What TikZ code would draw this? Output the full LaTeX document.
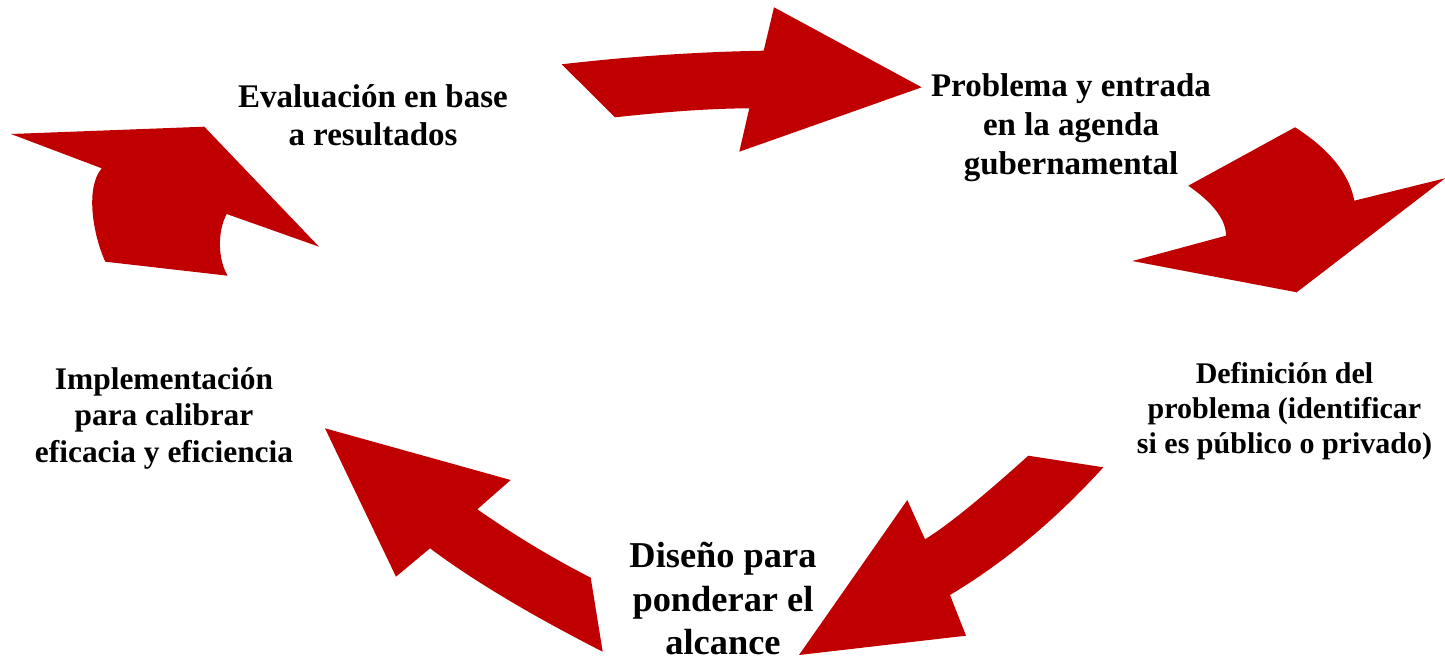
\documentclass[tikz,border=0pt]{standalone}
\usepackage{fontspec}
\setmainfont{Liberation Serif}
\definecolor{arrowred}{RGB}{192,0,0}
\tikzset{
  cyclearrow/.style={fill=arrowred, draw=none},
  stagelabel/.style={align=center, inner sep=0pt, anchor=base, text=black}
}
\begin{document}
\begin{tikzpicture}[x=1pt,y=-1pt]
\useasboundingbox (0,0) rectangle (1445,660);
% arrow 1 (top, to the right)
\fill[cyclearrow] (561.7,64.3) -- (615,117.3)
  .. controls (660,112.5) and (705,108.5) .. (749.3,108.3)
  -- (739.3,151.7) -- (921.7,87.3) -- (774,7.3) -- (763.7,50.7)
  .. controls (696.4,51.9) and (629,56.5) .. cycle;
% arrow 2 (right top, downwards)
\fill[cyclearrow] (1295,127.3) -- (1188.3,185.7)
  .. controls (1213.4,203.2) and (1226,219.8) .. (1226,235.7)
  -- (1132.3,261) -- (1296.7,292.3) -- (1445,178.3) -- (1354.3,200.7)
  .. controls (1349.2,173.8) and (1329.5,149.3) .. cycle;
% arrow 3 (lower right, down-left)
\fill[cyclearrow] (1028.3,455.7) -- (1103.3,467.3)
  .. controls (1055.8,519.6) and (1004.7,562.2) .. (950,595)
  -- (966,635.7) -- (799,655) -- (907.3,500) -- (925,539.3)
  .. controls (946.5,526.2) and (980.9,498.4) .. cycle;
% arrow 4 (lower left, up-left)
\fill[cyclearrow] (325,428.3) -- (510.7,480) -- (477.3,509.3)
  .. controls (514.2,535.1) and (552,557.9) .. (590.7,577.7)
  -- (602.7,651.7)
  .. controls (530,614.6) and (472.5,580.2) .. (430,548.3)
  -- (396,576.7) -- cycle;
% arrow 5 (top left)
\fill[cyclearrow] (11,134) -- (204.3,126.7) -- (319,246.7) -- (226.7,214)
  .. controls (217,232) and (218,260) .. (227.7,275.7)
  -- (105.3,261.7)
  .. controls (93,235) and (85,188) .. (101.7,168.3) -- cycle;
% labels
\node[stagelabel, font=\fontsize{33}{37.5}\selectfont\bfseries] (eval) at (373,145.5)
  {Evaluación en base\\a resultados};
\node[stagelabel, font=\fontsize{33}{39}\selectfont\bfseries] (prob) at (1071,174.7)
  {Problema y entrada\\en la agenda\\gubernamental};
\node[stagelabel, font=\fontsize{30}{35}\selectfont\bfseries] (defi) at (1284.5,453.5)
  {Definición del\\problema (identificar\\si es público o privado)};
\node[stagelabel, font=\fontsize{36.4}{43.5}\selectfont\bfseries] (dise) at (723,654.5)
  {Diseño para\\ponderar el\\alcance};
\node[stagelabel, font=\fontsize{31.4}{36.7}\selectfont\bfseries] (impl) at (164,462.5)
  {Implementación\\para calibrar\\eficacia y eficiencia};
\end{tikzpicture}
\end{document}
